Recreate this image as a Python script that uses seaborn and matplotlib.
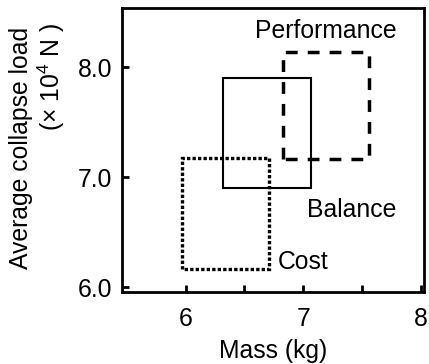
import matplotlib
matplotlib.use("Agg")
import matplotlib.pyplot as plt
import seaborn as sns
import pandas as pd

# Data: design regions (mass range in kg, collapse load range in 1e4 N)
regions = ["Balance", "Performance", "Cost"]
mass_min = [6.32, 6.825, 5.966]
mass_max = [7.07, 7.56, 6.71]
load_min = [6.905, 7.17, 6.17]
load_max = [7.90, 8.14, 7.18]
label_x = [7.03, 6.59, 6.785]
label_y = [6.642, 8.264, 6.164]

x_ticks = [6, 7, 8]
x_minor = [6.5, 7.5]
y_ticks = [6.0, 7.0, 8.0]
y_ticklabels = ["6.0", "7.0", "8.0"]

sns.set_style("ticks")
plt.rcParams["font.family"] = ["Liberation Sans", "DejaVu Sans"]
plt.rcParams["mathtext.fontset"] = "custom"
plt.rcParams["mathtext.rm"] = "Liberation Sans"
plt.rcParams["mathtext.it"] = "Liberation Sans"
plt.rcParams["text.color"] = "black"
plt.rcParams["axes.labelcolor"] = "black"

rows = []
for name, x0, x1, y0, y1 in zip(regions, mass_min, mass_max, load_min, load_max):
    for k, (xx, yy) in enumerate([(x0, y0), (x0, y1), (x1, y1), (x1, y0), (x0, y0)]):
        rows.append({"region": name, "order": k, "mass": xx, "load": yy})
df = pd.DataFrame(rows)

fig = plt.figure(figsize=(4.29, 3.64), dpi=100)
ax = fig.add_axes([0.2837, 0.1986, 0.989 - 0.2837, 0.978 - 0.1986])

styles = {
    "Balance": dict(lw=1.5, ls="-"),
    "Performance": dict(lw=2.5, ls=(0, (3.4, 2.9))),
    "Cost": dict(lw=2.4, ls=(0, (1.0, 0.65))),
}
for name in regions:
    sub = df[df.region == name]
    st = styles[name]
    sns.lineplot(data=sub, x="mass", y="load", sort=False, estimator=None,
                 color="black", linewidth=st["lw"], linestyle=st["ls"], ax=ax,
                 solid_joinstyle="miter", dash_joinstyle="miter",
                 dash_capstyle="butt")

for name, tx, ty in zip(regions, label_x, label_y):
    ax.text(tx, ty, name, fontsize=17.8, ha="left", va="baseline", color="black")

ax.set_xlim(5.456, 8.03)
ax.set_ylim(5.96, 8.54)
ax.set_xticks(x_ticks)
ax.set_xticklabels([str(v) for v in x_ticks])
ax.set_xticks(x_minor, minor=True)
ax.set_yticks(y_ticks)
ax.set_yticklabels(y_ticklabels)

ax.tick_params(axis="both", which="both", direction="in", length=5, width=2,
               colors="black", labelsize=17.8)
ax.tick_params(axis="x", which="major", pad=11)
ax.tick_params(axis="y", which="major", pad=7)
for s in ax.spines.values():
    s.set_linewidth(2)
    s.set_color("black")
    s.set_visible(True)

ax.set_xlabel("Mass (kg)", fontsize=17.8, labelpad=6, color="black")
ax.set_ylabel("")
fig.text(20.7 / 429, 1 - 148 / 364, "Average collapse load", rotation=90,
         fontsize=17.8, ha="center", va="center", color="black")
fig.text(51.7 / 429, 1 - 77 / 364, r"(× 10$^{4}$ N )", rotation=90,
         fontsize=17.8, ha="center", va="center", color="black")

fig.savefig("out.png", dpi=100)
